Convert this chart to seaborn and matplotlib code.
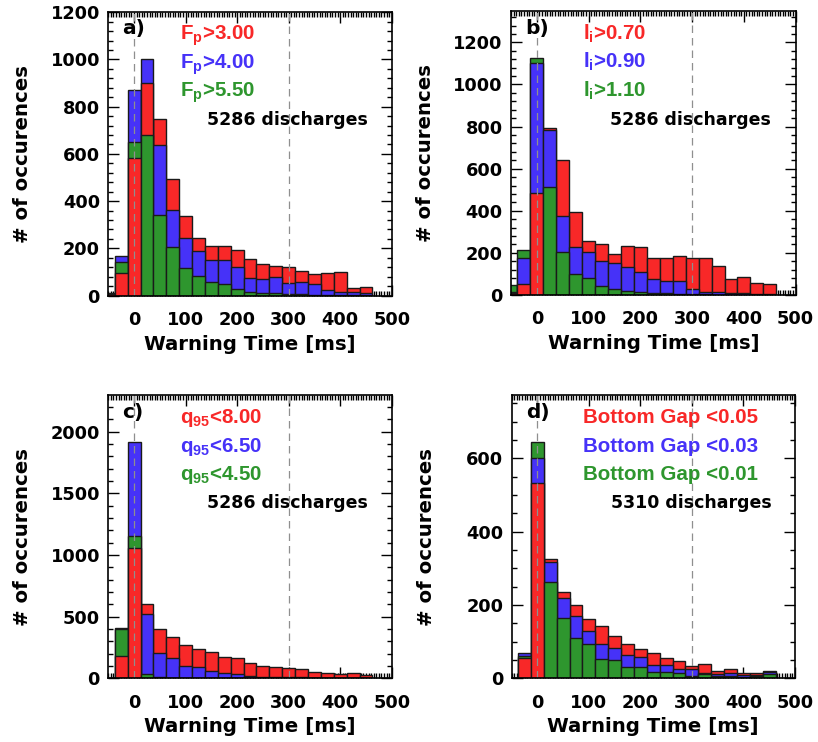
import numpy as np
import pandas as pd
import seaborn as sns
import matplotlib
matplotlib.use("Agg")
import matplotlib.pyplot as plt
from matplotlib.ticker import MultipleLocator

# ---------------- data ----------------
bin_centers = [-50, -25, 0, 25, 50, 75, 100, 125, 150, 175, 200, 225, 250,
               275, 300, 325, 350, 375, 400, 425, 450]
bin_width = 25

# panel a
a_red   = [5, 94, 583, 902, 749, 495, 336, 246, 210, 210, 195, 157, 133, 126, 122, 105, 91, 97, 101, 31, 38]
a_blue  = [8, 167, 872, 1002, 636, 364, 242, 190, 150, 150, 122, 73, 69, 77, 52, 56, 48, 24, 17, 17, 10]
a_green = [12, 143, 649, 680, 341, 204, 115, 83, 59, 49, 26, 17, 10, 10, 7, 5, 4, 3, 3, 1, 1]
# panel b
b_red   = [8, 51, 486, 794, 639, 395, 257, 240, 197, 232, 226, 174, 178, 186, 174, 174, 139, 76, 87, 58, 51]
b_blue  = [16, 174, 1102, 782, 376, 226, 205, 163, 150, 131, 111, 74, 68, 68, 30, 16, 13, 8, 8, 5, 3]
b_green = [47, 213, 1124, 513, 202, 98, 79, 44, 27, 21, 13, 11, 8, 5, 5, 3, 2, 2, 1, 1, 1]
# panel c
c_red   = [0, 180, 1054, 600, 403, 338, 270, 241, 216, 176, 165, 127, 100, 95, 81, 76, 54, 41, 35, 41, 27]
c_blue  = [0, 410, 1914, 519, 203, 165, 103, 95, 62, 41, 35, 19, 14, 14, 8, 8, 5, 5, 3, 3, 2]
c_green = [0, 400, 1157, 35, 8, 3, 2, 1, 1, 1, 1, 1, 1, 1, 1, 1, 1, 1, 1, 1, 1]
# panel d
d_red   = [0, 55, 534, 325, 236, 200, 161, 144, 116, 95, 79, 68, 56, 48, 35, 38, 20, 25, 14, 15, 21]
d_blue  = [0, 68, 600, 316, 218, 171, 130, 95, 84, 64, 57, 36, 36, 25, 25, 15, 12, 14, 9, 9, 18]
d_green = [0, 60, 644, 264, 165, 111, 93, 53, 50, 32, 30, 18, 16, 14, 7, 11, 6, 6, 5, 6, 11]

panel_letters = ["a)", "b)", "c)", "d)"]
legend_a = ["F$_{\\mathrm{p}}$>3.00", "F$_{\\mathrm{p}}$>4.00", "F$_{\\mathrm{p}}$>5.50"]
legend_b = ["l$_{\\mathrm{i}}$>0.70", "l$_{\\mathrm{i}}$>0.90", "l$_{\\mathrm{i}}$>1.10"]
legend_c = ["q$_{\\mathrm{95}}$<8.00", "q$_{\\mathrm{95}}$<6.50", "q$_{\\mathrm{95}}$<4.50"]
legend_d = ["Bottom Gap <0.05", "Bottom Gap <0.03", "Bottom Gap <0.01"]
discharges = ["5286 discharges", "5286 discharges", "5286 discharges", "5310 discharges"]
yticks_list = [[0, 200, 400, 600, 800, 1000, 1200],
               [0, 200, 400, 600, 800, 1000, 1200],
               [0, 500, 1000, 1500, 2000],
               [0, 200, 400, 600]]
xticks = [0, 100, 200, 300, 400, 500]
vlines_x = [0, 300]

# ---------------- style ----------------
sns.set_style("ticks")
plt.rcParams['font.family'] = ['DejaVu Sans']
plt.rcParams['font.weight'] = 'bold'
plt.rcParams['axes.labelweight'] = 'bold'
plt.rcParams['text.color'] = 'black'
plt.rcParams['axes.labelcolor'] = 'black'
plt.rcParams['xtick.color'] = 'black'
plt.rcParams['ytick.color'] = 'black'
plt.rcParams['axes.edgecolor'] = 'black'
plt.rcParams['mathtext.fontset'] = 'custom'
plt.rcParams['mathtext.rm'] = 'Liberation Sans:bold'
plt.rcParams['mathtext.bf'] = 'Liberation Sans:bold'
plt.rcParams['mathtext.it'] = 'Liberation Sans:bold'

LEG_FONT = ['Liberation Sans', 'DejaVu Sans']

RED = '#F82828'
BLUE = '#4632F8'
GREEN = '#2E962E'
colors = [RED, BLUE, GREEN]

fig = plt.figure(figsize=(8.18, 7.42), dpi=100)
positions = [
    [0.1324, 0.6016, 0.3465, 0.3827],
    [0.6247, 0.6024, 0.3480, 0.3827],
    [0.1324, 0.0858, 0.3465, 0.3818],
    [0.6255, 0.0858, 0.3463, 0.3818],
]
series_all = [(a_red, a_blue, a_green), (b_red, b_blue, b_green),
              (c_red, c_blue, c_green), (d_red, d_blue, d_green)]
legends = [legend_a, legend_b, legend_c, legend_d]
yminor = [40, 40, 100, 50]

centers = np.array(bin_centers, dtype=float)
brange = (centers[0] - bin_width / 2, centers[-1] + bin_width / 2)

for i in range(4):
    ax = fig.add_axes(positions[i])
    series = series_all[i]
    vals = np.array(series, dtype=float)  # shape (3, nbins)
    # rank per bin: tallest drawn lowest
    order = np.argsort(-vals, axis=0, kind='stable')
    ranks = np.empty_like(order)
    for b in range(vals.shape[1]):
        ranks[order[:, b], b] = np.arange(3)
    for s in range(3):
        n0 = len(ax.patches)
        df = pd.DataFrame({"t": centers, "n": vals[s]})
        sns.histplot(data=df, x="t", weights="n", binwidth=bin_width,
                     binrange=brange, ax=ax,
                     color=colors[s], alpha=1.0, edgecolor='#1a1a1a',
                     linewidth=1.0)
        for b, p in enumerate(ax.patches[n0:]):
            p.set_facecolor(colors[s])
            p.set_zorder(2 + ranks[s, b])
    for xv in vlines_x:
        ax.axvline(xv, color='#8f8f8f', linestyle=(0, (6, 4)), linewidth=0.9, zorder=10)

    ax.set_axisbelow(True)
    ax.set_xlim(-50, 500)
    ax.set_ylim(0, 1.2 * vals.max())
    ax.set_xticks(xticks)
    ax.set_yticks(yticks_list[i])
    ax.xaxis.set_minor_locator(MultipleLocator(5))
    ax.yaxis.set_minor_locator(MultipleLocator(yminor[i]))
    ax.tick_params(which='both', direction='in', top=True, right=True,
                   labelsize=12.8, width=1.0)
    ax.tick_params(axis='x', which='major', pad=11)
    ax.tick_params(axis='y', which='major', pad=6)
    ax.tick_params(which='major', length=8)
    ax.tick_params(which='minor', length=3.5)
    for lab in ax.get_xticklabels() + ax.get_yticklabels():
        lab.set_fontweight('bold')
    for sp in ax.spines.values():
        sp.set_linewidth(1.2)
        sp.set_visible(True)
        sp.set_zorder(20)

    ax.set_xlabel("Warning Time [ms]", fontsize=14.2, fontweight='bold')
    ax.set_ylabel("# of occurences", fontsize=14.2, fontweight='bold')
    ax.xaxis.set_label_coords(0.5, -0.137)
    ax.yaxis.set_label_coords(-0.268, 0.5)

    ax.text(0.05, 0.92, panel_letters[i], transform=ax.transAxes, fontsize=14.5,
            fontweight='bold', color='black', va='baseline', ha='left', zorder=30)
    for k in range(3):
        ax.text(0.253, 0.90 - 0.10 * k, legends[i][k], transform=ax.transAxes,
                fontsize=14.8, fontweight='bold', color=colors[k], family=LEG_FONT,
                va='baseline', ha='left', zorder=30)
    ax.text(0.349, 0.60, discharges[i], transform=ax.transAxes, fontsize=12.5,
            fontweight='bold', color='black', va='baseline', ha='left', zorder=30)

fig.savefig("out.png", dpi=100)
